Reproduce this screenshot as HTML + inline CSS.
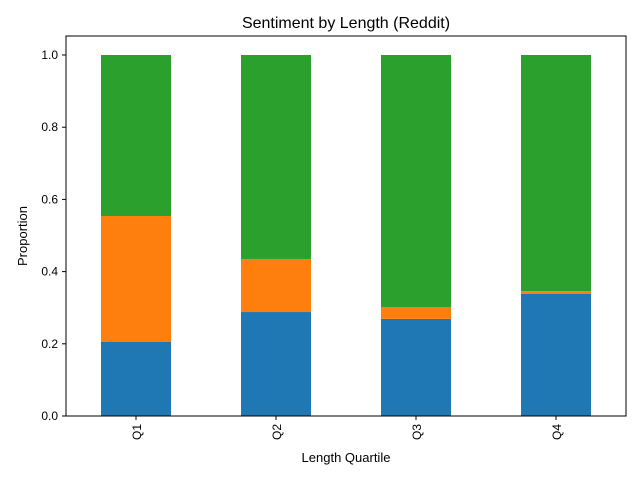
<!DOCTYPE html>
<html><head><meta charset="utf-8"><style>
body{margin:0;background:#fff;font-family:"Liberation Sans",sans-serif;}
</style></head><body>
<svg width="640" height="480" font-family="Liberation Sans, sans-serif">
<rect width="640" height="480" fill="#fff"/>
<text x="346" y="28" text-anchor="middle" font-size="16">Sentiment by Length (Reddit)</text>
<g id="bars"></g>
<g id="axes"></g>
<text x="346" y="462" text-anchor="middle" font-size="13">Length Quartile</text>
<text x="27" y="236" text-anchor="middle" font-size="13" transform="rotate(-90 27 236)">Proportion</text>
</svg>
<script>
const categories=["Q1","Q2","Q3","Q4"];
const negative=[0.205,0.288,0.269,0.338];
const neutral=[0.349,0.147,0.033,0.008];
const positive=[0.446,0.565,0.698,0.654];
const yTicks=[0,0.2,0.4,0.6,0.8,1.0];
const NS="http://www.w3.org/2000/svg";
const L=66,R=626,T=55,B=416;
const y=v=>B-v*(B-T);
const xc=i=>L+(R-L)/categories.length*(i+0.5);
const bw=70;
const bars=document.getElementById('bars'),axes=document.getElementById('axes');
function mk(tag,attrs,parent){const e=document.createElementNS(NS,tag);for(const k in attrs)e.setAttribute(k,attrs[k]);parent.appendChild(e);return e;}
const series=[[negative,'#1f77b4','negative'],[neutral,'#ff7f0e','neutral'],[positive,'#2ca02c','positive']];
categories.forEach((c,i)=>{let base=0;series.forEach(([arr,col,nm])=>{const v=arr[i];
const r=mk('rect',{x:xc(i)-bw/2,y:y(base+v),width:bw,height:y(base)-y(base+v),fill:col},bars);


base+=v;});
mk('line',{x1:xc(i),x2:xc(i),y1:B,y2:B+4,stroke:'#000'},axes);
const t=mk('text',{x:xc(i)+5,y:B+8,'font-size':12,'text-anchor':'end',transform:`rotate(-90 ${xc(i)+5} ${B+8})`},axes);
t.textContent=c;


});
yTicks.forEach(v=>{mk('line',{x1:L-4,x2:L,y1:y(v),y2:y(v),stroke:'#000'},axes);
const t=mk('text',{x:L-8,y:y(v)+4,'font-size':12,'text-anchor':'end'},axes);t.textContent=v.toFixed(1);

});
const f=mk('rect',{x:L,y:T-19,width:R-L,height:B-T+19,fill:'none',stroke:'#000','stroke-width':1},axes);


</script>
</body></html>
